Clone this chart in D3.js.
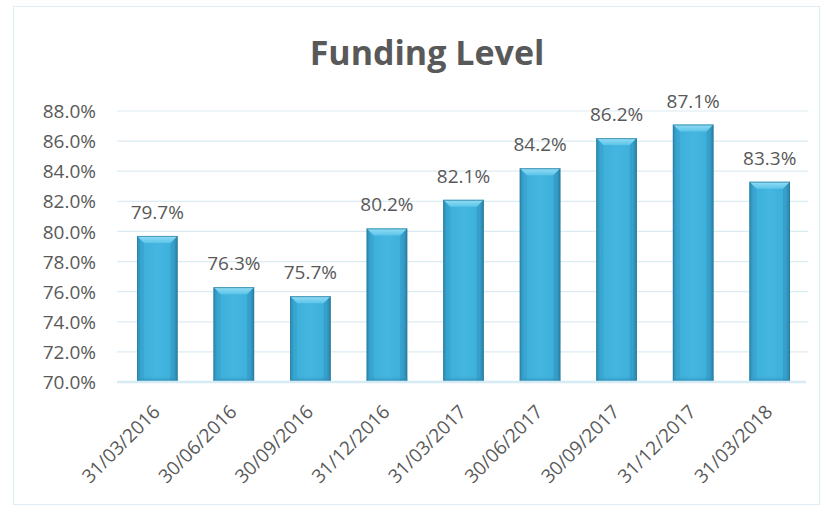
<!DOCTYPE html>
<html>
<head>
<meta charset="utf-8">
<script src="https://cdn.jsdelivr.net/npm/d3@7"></script>
<style>
  html, body { margin: 0; padding: 0; background: #ffffff; }
  svg { display: block; }
  text { font-family: "Open Sans", Lato, sans-serif; }
</style>
</head>
<body>
<svg id="chart" width="827" height="512"></svg>
<script>
const categories = ["31/03/2016","30/06/2016","30/09/2016","31/12/2016","31/03/2017","30/06/2017","30/09/2017","31/12/2017","31/03/2018"];
const values = [79.7, 76.3, 75.7, 80.2, 82.1, 84.2, 86.2, 87.1, 83.3];
const yTicks = [70, 72, 74, 76, 78, 80, 82, 84, 86, 88];
const title = "Funding Level";

const svg = d3.select("#chart");
const plot = { left: 119, right: 808, top: 111, bottom: 382 };

// chart border
svg.append("rect").attr("x", 13.5).attr("y", 6.5).attr("width", 806).attr("height", 498)
  .attr("fill", "#fff").attr("stroke", "#dcedf4").attr("stroke-width", 1);

const defs = svg.append("defs");
const g1 = defs.append("linearGradient").attr("id", "barGrad").attr("x1", "0").attr("x2", "1").attr("y1", "0").attr("y2", "0");
g1.append("stop").attr("offset", "0%").attr("stop-color", "#2a87ad");
g1.append("stop").attr("offset", "10%").attr("stop-color", "#3cafda");
g1.append("stop").attr("offset", "50%").attr("stop-color", "#44b6e0");
g1.append("stop").attr("offset", "90%").attr("stop-color", "#3cafda");
g1.append("stop").attr("offset", "100%").attr("stop-color", "#2a7fa3");
const g2 = defs.append("linearGradient").attr("id", "topGrad").attr("x1", "0").attr("x2", "0").attr("y1", "0").attr("y2", "1");
g2.append("stop").attr("offset", "0%").attr("stop-color", "#94def6");
g2.append("stop").attr("offset", "100%").attr("stop-color", "#5cc4e9");
const g3 = defs.append("linearGradient").attr("id", "botGrad").attr("x1", "0").attr("x2", "0").attr("y1", "0").attr("y2", "1");
g3.append("stop").attr("offset", "0%").attr("stop-color", "#3aa9d4").attr("stop-opacity", 0);
g3.append("stop").attr("offset", "100%").attr("stop-color", "#2a7fa3").attr("stop-opacity", 0.9);

const x = d3.scaleBand().domain(categories).range([plot.left, plot.right]).paddingInner(0.47).paddingOuter(0.235);
const y = d3.scaleLinear().domain([70, 88]).range([plot.bottom, plot.top]);

// gridlines
svg.append("g").selectAll("line").data(yTicks.filter(t => t !== 70)).join("line")
  .attr("x1", 117).attr("x2", plot.right).attr("y1", d => y(d)).attr("y2", d => y(d))
  .attr("stroke", "#dcecf3").attr("stroke-width", 1.2);

// y axis labels
const yAxis = d3.axisLeft(y).tickValues(yTicks).tickFormat(d => d3.format(".1f")(d) + "%").tickSize(0).tickPadding(0);
const ya = svg.append("g").attr("transform", "translate(96,0)").call(yAxis);
ya.select(".domain").remove();
ya.selectAll("text").attr("font-family", "'Open Sans', sans-serif").attr("font-size", 19).attr("fill", "#595959").attr("dy", "0.35em");

// bars
const bars = svg.append("g").selectAll("g").data(values).join("g")
  .attr("transform", (d, i) => `translate(${x(categories[i])},0)`);
const bw = x.bandwidth();
const bev = 7;
bars.append("rect").attr("x", 0).attr("y", d => y(d)).attr("width", bw).attr("height", d => y(70) - y(d))
  .attr("fill", "url(#barGrad)");
bars.append("rect").attr("x", 0).attr("y", d => y(70) - 6).attr("width", bw).attr("height", 6)
  .attr("fill", "url(#botGrad)");
bars.append("polygon").attr("points", d => {
  const t = y(d);
  return `0,${t} ${bw},${t} ${bw - bev},${t + bev} ${bev},${t + bev}`;
}).attr("fill", "url(#topGrad)");
bars.append("polygon").attr("points", d => {
  const t = y(d);
  return `0,${t} ${bev},${t + bev} ${bev},${y(70)} 0,${y(70)}`;
}).attr("fill", "#3196c0").attr("opacity", 0.35);
bars.append("polygon").attr("points", d => {
  const t = y(d);
  return `${bw},${t} ${bw - bev},${t + bev} ${bw - bev},${y(70)} ${bw},${y(70)}`;
}).attr("fill", "#2a85ad").attr("opacity", 0.35);
bars.append("rect").attr("x", 0.5).attr("y", d => y(d) + 0.5).attr("width", bw - 1).attr("height", d => y(70) - y(d) - 1)
  .attr("fill", "none").attr("stroke", "#2b7c9e").attr("stroke-width", 1).attr("opacity", 0.7);

// axis line
svg.append("line").attr("x1", 117).attr("x2", 806).attr("y1", y(70)).attr("y2", y(70))
  .attr("stroke", "#d6ebf4").attr("stroke-width", 2.5);

// data labels
svg.append("g").selectAll("text").data(values).join("text")
  .attr("x", (d, i) => x(categories[i]) + bw / 2).attr("y", d => y(d) - 17)
  .attr("text-anchor", "middle").attr("font-size", 19).attr("fill", "#595959")
  .text(d => d3.format(".1f")(d) + "%");

// x labels
svg.append("g").selectAll("text").data(categories).join("text")
  .attr("transform", d => `translate(${x(d) + bw / 2 + 4},${plot.bottom + 31}) rotate(-45)`)
  .attr("text-anchor", "end").attr("font-size", 19).attr("fill", "#595959")
  .text(d => d);

// title
svg.append("text").attr("x", 427).attr("y", 65).attr("text-anchor", "middle")
  .attr("font-size", 34).attr("font-weight", "bold").attr("fill", "#595959")
  .text(title);
</script>
</body>
</html>
